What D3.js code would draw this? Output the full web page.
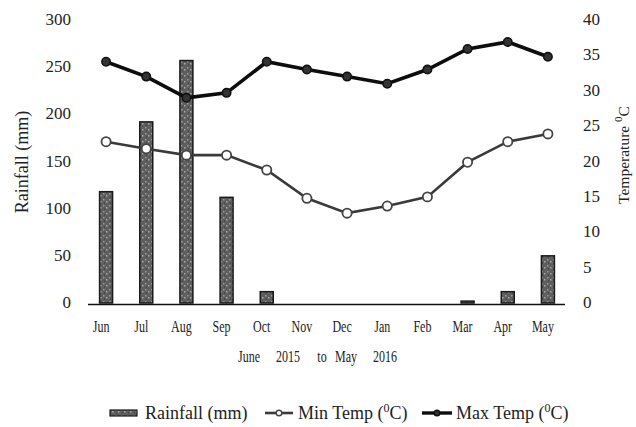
<!DOCTYPE html>
<meta charset="utf-8">
<head>
    <script src="https://d3js.org/d3.v7.min.js"></script>
    <style>
        body { margin: 0; background: #fff; }
        text { font-family: 'Liberation Serif', 'Times New Roman', serif; fill: #222; }
    </style>
</head>
<body>
    <div id="chart"></div>
    <script>

    // data
    var months = ["Jun","Jul","Aug","Sep","Oct","Nov","Dec","Jan","Feb","Mar","Apr","May"]
    var rainfall = [118, 192, 257, 112, 12, 0, 0, 0, 0, 2, 12, 50]
    var minTemp = [22.8, 21.8, 20.9, 20.9, 18.8, 14.8, 12.7, 13.7, 15.0, 19.9, 22.8, 23.9]
    var maxTemp = [34.1, 32.0, 29.0, 29.7, 34.1, 33.0, 32.0, 31.0, 33.0, 35.9, 36.9, 34.8]
    var rainTicks = [0, 50, 100, 150, 200, 250, 300]
    var tempTicks = [0, 5, 10, 15, 20, 25, 30, 35, 40]
    var periodWords = ["June", "2015", "to", "May", "2016"]

    var width = 636, height = 427

    var svg = d3.select("#chart")
                .append("svg")
                .attr("width", width)
                .attr("height", height)

    // speckled texture for the bars
    var defs = svg.append("defs")
    var pat = defs.append("pattern")
        .attr("id", "speckle")
        .attr("patternUnits", "userSpaceOnUse")
        .attr("width", 6).attr("height", 6)
    pat.append("rect").attr("width", 6).attr("height", 6).attr("fill", "#5e5e5e")
    pat.append("rect").attr("x", 1).attr("y", 1).attr("width", 1.5).attr("height", 1.5).attr("fill", "#9a9a9a")
    pat.append("rect").attr("x", 4).attr("y", 3).attr("width", 1.5).attr("height", 1.5).attr("fill", "#a8a8a8")
    pat.append("rect").attr("x", 2).attr("y", 4.5).attr("width", 1).attr("height", 1).attr("fill", "#333")

    var x = d3.scaleBand()
        .domain(months)
        .range([86, 568])

    var yRain = d3.scaleLinear().domain([0, 300]).range([303, 20])
    var yTemp = d3.scaleLinear().domain([0, 40]).range([303, 20])

    var cx = function(i) { return x(months[i]) + x.bandwidth() / 2 }

    // bars
    svg.selectAll("rect.bar")
        .data(rainfall)
        .enter()
        .append("rect")
        .attr("class", "bar")
        .attr("x", function(d, i) { return cx(i) - 6.5 })
        .attr("width", 13)
        .attr("y", function(d) { return yRain(d) })
        .attr("height", function(d) { return yRain(0) - yRain(d) })
        .attr("fill", "url(#speckle)")
        .attr("stroke", "#1a1a1a")
        .attr("stroke-width", function(d) { return d > 0 ? 1.5 : 0 })

    // baseline
    svg.append("line")
        .attr("x1", 88).attr("x2", 565)
        .attr("y1", yRain(0) + 1.5).attr("y2", yRain(0) + 1.5)
        .attr("stroke", "#111").attr("stroke-width", 1.6)

    var line = function(vals) {
        return d3.line()
            .x(function(d, i) { return cx(i) })
            .y(function(d) { return yTemp(d) })(vals)
    }

    // min temp line
    svg.append("path")
        .attr("d", line(minTemp))
        .attr("fill", "none")
        .attr("stroke", "#3a3a3a")
        .attr("stroke-width", 2.6)

    svg.selectAll("circle.min")
        .data(minTemp)
        .enter()
        .append("circle")
        .attr("cx", function(d, i) { return cx(i) })
        .attr("cy", function(d) { return yTemp(d) })
        .attr("r", 4.6)
        .attr("fill", "#fff")
        .attr("stroke", "#444")
        .attr("stroke-width", 1.8)

    // max temp line
    svg.append("path")
        .attr("d", line(maxTemp))
        .attr("fill", "none")
        .attr("stroke", "#0d0d0d")
        .attr("stroke-width", 3.6)

    svg.selectAll("circle.max")
        .data(maxTemp)
        .enter()
        .append("circle")
        .attr("cx", function(d, i) { return cx(i) })
        .attr("cy", function(d) { return yTemp(d) })
        .attr("r", 4.2)
        .attr("fill", "#333")
        .attr("stroke", "#111")
        .attr("stroke-width", 1.6)

    // left tick labels
    svg.selectAll("text.lt")
        .data(rainTicks)
        .enter()
        .append("text")
        .attr("x", 71)
        .attr("y", function(d) { return yRain(d) })
        .attr("dy", "0.3em")
        .attr("text-anchor", "end")
        .style("font-size", "17px")
        .text(function(d) { return d })

    // right tick labels
    svg.selectAll("text.rt")
        .data(tempTicks)
        .enter()
        .append("text")
        .attr("x", 583)
        .attr("y", function(d) { return yTemp(d) })
        .attr("dy", "0.3em")
        .style("font-size", "17px")
        .text(function(d) { return d })

    // month labels (narrow serif)
    svg.selectAll("text.month")
        .data(months)
        .enter()
        .append("text")
        .attr("transform", function(d) { return "translate(" + (x(d) + x.bandwidth() / 2 - 5) + ",332) scale(0.75,1.05)" })
        .attr("text-anchor", "middle")
        .style("font-size", "16px")
        .text(function(d) { return d })

    // period label under the axis
    var periodX = [249, 288, 322, 346, 385]
    svg.selectAll("text.period")
        .data(periodWords)
        .enter()
        .append("text")
        .attr("transform", function(d, i) { return "translate(" + periodX[i] + ",362) scale(0.75,1.05)" })
        .attr("text-anchor", "middle")
        .style("font-size", "16px")
        .text(function(d) { return d })

    // axis titles
    svg.append("text")
        .attr("transform", "translate(28,162) rotate(-90)")
        .attr("text-anchor", "middle")
        .style("font-size", "18px")
        .text("Rainfall (mm)")

    var rt = svg.append("text")
        .attr("transform", "translate(629,155) rotate(-90)")
        .attr("text-anchor", "middle")
        .style("font-size", "15.5px")
    rt.append("tspan").text("Temperature ")
    rt.append("tspan").attr("dy", -7).style("font-size", "11px").text("0")
    rt.append("tspan").attr("dy", 7).text("C")

    // legend
    var ly = 413
    svg.append("rect")
        .attr("x", 110).attr("y", ly - 3).attr("width", 27).attr("height", 6)
        .attr("fill", "url(#speckle)").attr("stroke", "#1a1a1a").attr("stroke-width", 1.2)
    svg.append("text").attr("x", 145).attr("y", ly + 6).style("font-size", "18px").text("Rainfall (mm)")

    svg.append("line").attr("x1", 265).attr("x2", 293).attr("y1", ly).attr("y2", ly)
        .attr("stroke", "#3a3a3a").attr("stroke-width", 2.6)
    svg.append("circle").attr("cx", 279).attr("cy", ly).attr("r", 2.8)
        .attr("fill", "#fff").attr("stroke", "#444").attr("stroke-width", 1.4)
    var t1 = svg.append("text").attr("x", 298).attr("y", ly + 6).style("font-size", "18px")
    t1.append("tspan").text("Min Temp (")
    t1.append("tspan").attr("dy", -7).style("font-size", "12px").text("0")
    t1.append("tspan").attr("dy", 7).text("C)")

    svg.append("line").attr("x1", 422).attr("x2", 452).attr("y1", ly).attr("y2", ly)
        .attr("stroke", "#0d0d0d").attr("stroke-width", 3.4)
    svg.append("circle").attr("cx", 437).attr("cy", ly).attr("r", 2.8)
        .attr("fill", "#333").attr("stroke", "#111").attr("stroke-width", 1.4)
    var t2 = svg.append("text").attr("x", 456).attr("y", ly + 6).style("font-size", "18px")
    t2.append("tspan").text("Max Temp (")
    t2.append("tspan").attr("dy", -7).style("font-size", "12px").text("0")
    t2.append("tspan").attr("dy", 7).text("C)")

    </script>
</body>
